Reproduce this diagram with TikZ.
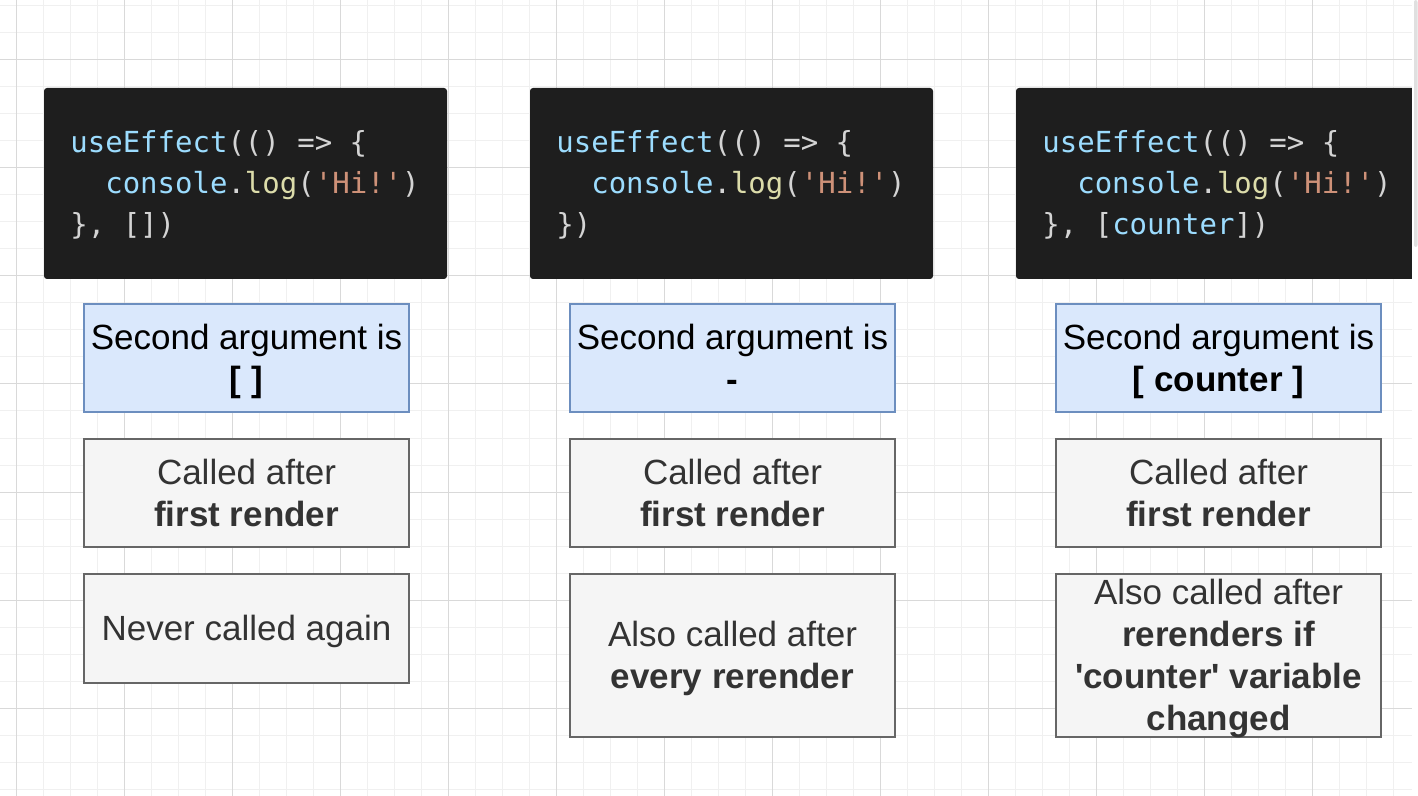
\documentclass[tikz,border=0pt]{standalone}
\usepackage{fontspec}
\setmainfont{Liberation Sans}
\setmonofont{DejaVu Sans Mono}
\definecolor{codebg}{HTML}{1E1E1E}
\definecolor{codeblue}{HTML}{9CDCFE}
\definecolor{codeyellow}{HTML}{DCDCAA}
\definecolor{codeorange}{HTML}{CE9178}
\definecolor{codegray}{HTML}{D4D4D4}
\definecolor{argfill}{HTML}{DAE8FC}
\definecolor{argline}{HTML}{6C8EBF}
\definecolor{callfill}{HTML}{F5F5F5}
\definecolor{callline}{HTML}{666666}
\definecolor{calltext}{HTML}{333333}
\definecolor{gridminor}{HTML}{F0F0F0}
\definecolor{gridmajor}{HTML}{D9D9D9}
\newcommand*{\codespace}{\spaceskip 8.73pt\relax}
\newcommand*{\boxspace}{\spaceskip 4.86pt\relax}
\tikzset{
  minorline/.style = { draw=gridminor, line width=0.5pt },
  majorline/.style = { draw=gridmajor, line width=0.5pt },
  codeblock/.style = { fill=codebg, rounded corners=1.5pt, inner sep=0pt,
                       minimum width=201.5pt, minimum height=95.5pt },
   codetext/.style = { font=\ttfamily\fontsize{14.5}{20.5}\selectfont, text=codegray,
                       align=left, text width=190pt, inner sep=0pt, anchor=north west,
                       execute at begin node=\codespace },
        box/.style = { font=\fontsize{17.5}{21}\selectfont, align=center, inner sep=0pt,
                       text width=162.5pt, minimum height=54pt,
                       execute at begin node=\boxspace },
     argbox/.style = { box, fill=argfill, draw=argline, line width=0.75pt },
    callbox/.style = { box, fill=callfill, draw=callline, line width=1pt, text=calltext },
}
\newcommand*{\tstrut}{\noindent\vrule height 16.56pt depth 4.44pt width 0pt}
\newcommand*{\cstrut}{\noindent\vrule height 15pt depth 5.5pt width 0pt}
\newcommand*{\codeopen}{\cstrut\textcolor{codeblue}{useEffect}(() => \{}
\newcommand*{\codelog}{\phantom{xx}\textcolor{codeblue}{console}.\textcolor{codeyellow}{log}(\textcolor{codeorange}{'Hi!'})}
\newcommand*{\calledafter}{\tstrut Called after\\ \textbf{first render}\tstrut}

\begin{document}
\begin{tikzpicture}[x=0.5pt, y=-0.5pt]
  \useasboundingbox (0,0) rectangle (1418,796);
  % grid
  \foreach \i in {0,...,51} \draw[minorline] ({16.5+27*\i},0) -- ++(0,796);
  \foreach \i in {0,...,29} \draw[minorline] (0,{6+27*\i}) -- ++(1418,0);
  \foreach \i in {0,...,12} \draw[majorline] ({16.5+108*\i},0) -- ++(0,796);
  \foreach \i in {0,...,6}  \draw[majorline] (0,{60+108*\i}) -- ++(1418,0);

  \foreach \c/\x/\arg/\last in {
      1/246.5/{[ ]}/{\}, [])},
      2/732.5/{-}/{\})},
      3/1218.5/{[ counter ]}/{\}, [\textcolor{codeblue}{counter}])}} {
    \node[codeblock] (code-\c) at (\x-1,183.5) {};
    \node[codetext] (src-\c) at (\x-176.5,122) {\codeopen\\ \codelog\\ \last\cstrut};
    \node[argbox] (arg-\c) at (\x,358) {\tstrut Second argument is\\ \textbf{\arg}\tstrut};
    \node[callbox] (first-\c) at (\x,493) {\calledafter};
  }
  \node[callbox, minimum height=54.5pt] (again-1) at (246.5,628.5)
    {\tstrut Never called again\tstrut};
  \node[callbox, minimum height=81.5pt] (again-2) at (732.5,655.5)
    {\tstrut Also called after\\ \textbf{every rerender}\tstrut};
  \node[callbox, minimum height=81.5pt, inner ysep=-1.25pt] (again-3) at (1218.5,655.5)
    {\tstrut Also called after\\ \textbf{rerenders if\\ \textquotesingle counter\textquotesingle{} variable\\ changed}\tstrut};

  % scroll bar
  \fill[white] (1412,0) rectangle (1418,796);
  \fill[black!12, rounded corners=1pt] (1414,0) rectangle (1417.5,247);
\end{tikzpicture}
\end{document}
